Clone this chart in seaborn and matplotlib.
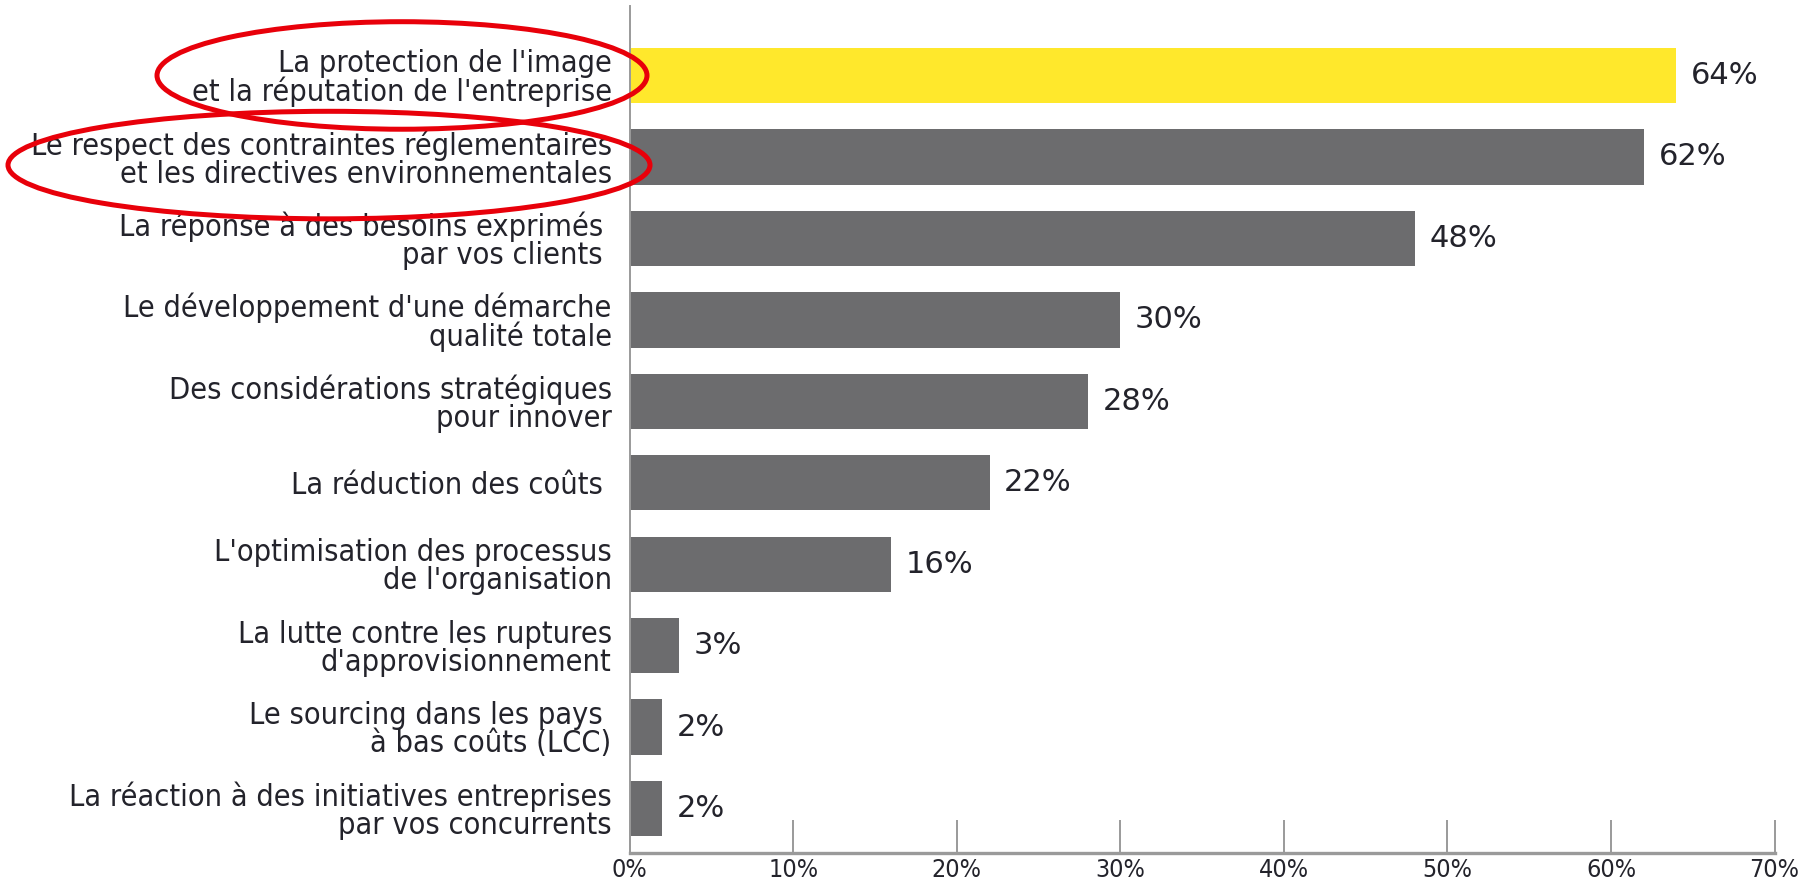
import matplotlib
matplotlib.use("Agg")
import matplotlib.pyplot as plt
from matplotlib.patches import Ellipse
from matplotlib.transforms import blended_transform_factory
import seaborn as sns
import pandas as pd

categories = [
    "La protection de l'image\net la réputation de l'entreprise",
    "Le respect des contraintes réglementaires\net les directives environnementales",
    "La réponse à des besoins exprimés \npar vos clients ",
    "Le développement d'une démarche\nqualité totale",
    "Des considérations stratégiques\npour innover",
    "La réduction des coûts ",
    "L'optimisation des processus\nde l'organisation",
    "La lutte contre les ruptures\nd'approvisionnement",
    "Le sourcing dans les pays \nà bas coûts (LCC)",
    "La réaction à des initiatives entreprises\npar vos concurrents",
]
values = [64, 62, 48, 30, 28, 22, 16, 3, 2, 2]
tick_values = [0, 10, 20, 30, 40, 50, 60, 70]
tick_labels = ["0%", "10%", "20%", "30%", "40%", "50%", "60%", "70%"]

YELLOW = "#FFE82C"
GREY = "#6C6C6E"
TEXT = "#23232B"
AXIS = "#9A9A9A"
RED = "#E8000A"

colors = [YELLOW] + [GREY] * (len(categories) - 1)

df = pd.DataFrame({"category": categories, "value": values})

sns.set_theme(style="white")
plt.rcParams["font.family"] = ["DejaVu Sans"]
plt.rcParams["font.stretch"] = "condensed"

fig = plt.figure(figsize=(18.2, 8.89), dpi=100)
ax = fig.add_axes([0.346, 0.040, 0.629, 0.953])

sns.barplot(data=df, y="category", x="value", hue="category",
            palette=colors, legend=False, orient="h", width=0.68,
            saturation=1, ax=ax, edgecolor="none")

ax.set_xlim(0, 70)
ax.set_ylim(9.55, -0.85)
ax.set_xlabel("")
ax.set_ylabel("")

ax.set_xticks(tick_values)
ax.set_xticklabels(tick_labels, fontsize=18, color=TEXT)
ax.tick_params(axis="x", bottom=True, direction="in", length=24, width=1.4,
               color=AXIS, pad=3)
ax.tick_params(axis="y", left=False, length=0, pad=13, labelsize=22,
               labelcolor=TEXT)
for lab in ax.get_yticklabels():
    lab.set_horizontalalignment("right")
    lab.set_multialignment("right")
    lab.set_linespacing(0.95)

for side in ("top", "right"):
    ax.spines[side].set_visible(False)
ax.spines["left"].set_color(AXIS)
ax.spines["left"].set_linewidth(1.4)
ax.spines["bottom"].set_color(AXIS)
ax.spines["bottom"].set_linewidth(2.4)

# value labels at the end of each bar
for i, v in enumerate(values):
    ax.text(v + 0.9, i, f"{v}%", va="center", ha="left",
            fontsize=22, color=TEXT, fontstretch="normal")

# red highlight rings around the two leading answers
trans = blended_transform_factory(fig.transFigure, ax.transData)
for cx, w, yi in [(402 / 1820, 490 / 1820, 0.0), (329 / 1820, 642 / 1820, 1.1)]:
    ring = Ellipse((cx, yi), width=w, height=1.32, transform=trans,
                   fill=False, edgecolor=RED, linewidth=3.6, clip_on=False,
                   zorder=10)
    ax.add_patch(ring)

fig.savefig("out.png", dpi=100, facecolor="white")
